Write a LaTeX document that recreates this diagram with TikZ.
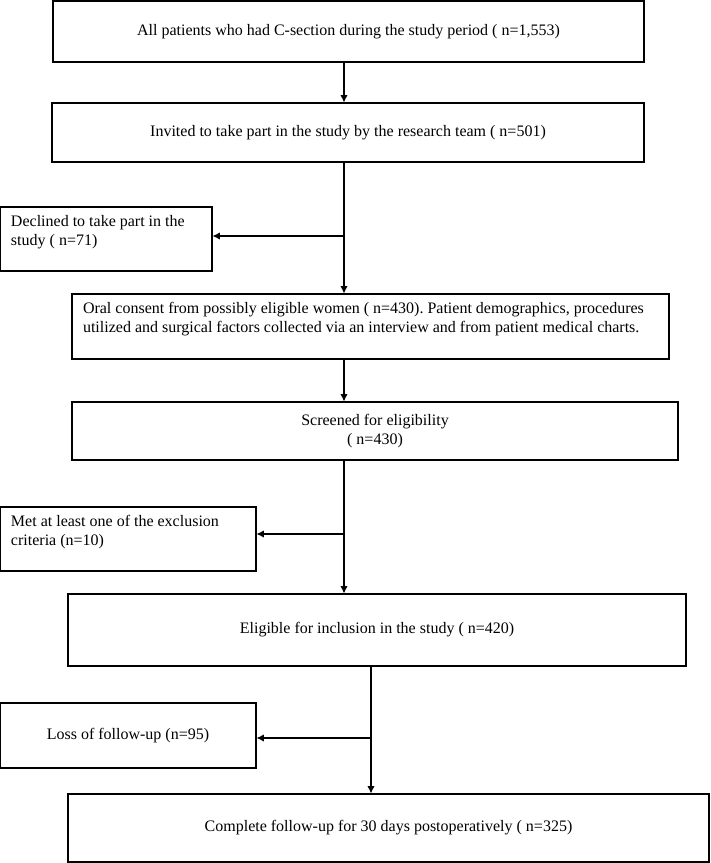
\documentclass[tikz,border=0pt]{standalone}
\usepackage{fontspec}
\setmainfont{Liberation Serif}
\usetikzlibrary{arrows.meta}

\begin{document}
\begin{tikzpicture}[x=0.75pt, y=-0.75pt,
    box/.style={rectangle, draw, line width=0.8pt, inner sep=0pt, font=\fontsize{12}{14.25}\selectfont\frenchspacing},
    sidebox/.style={box, align=flush left, inner xsep=8.25pt, text height=14.75pt},
    arr/.style={line width=0.8pt, -{Latex[length=5.5pt, width=5.5pt]}}]

    \useasboundingbox (0,0) rectangle (710,863);

    % All patients
    \node[box, minimum width=443.25pt, minimum height=45.75pt] (AP) at (348.5,31.5) {All patients who had C-section during the study period ( n=1,553)};

    % Invited
    \node[box, minimum width=444pt, minimum height=44.25pt] (IN) at (348,132.5) {Invited to take part in the study by the research team ( n=501)};

    % Declined
    \node[sidebox, text width=142.5pt, text depth=33.25pt] (DC) at (106,239) {Declined to take part in the\\study ( n=71)};

    % Oral consent
    \node[sidebox, text width=431.25pt, text depth=34pt] (OC) at (370.5,326.5) {Oral consent from possibly eligible women ( n=430). Patient demographics, procedures\\utilized and surgical factors collected via an interview and from patient medical charts.};

    % Screened
    \node[box, align=flush center, minimum width=454.5pt, minimum height=43.5pt] (SC) at (375,431) {Screened for eligibility\\( n=430)};

    % Excluded
    \node[sidebox, text width=175.5pt, text depth=33.25pt] (EX) at (128,539) {Met at least one of the exclusion\\criteria (n=10)};

    % Eligible
    \node[box, minimum width=463.5pt, minimum height=54pt] (EL) at (377,630) {Eligible for inclusion in the study ( n=420)};

    % Loss of follow-up
    \node[box, minimum width=192pt, minimum height=48.75pt] (LF) at (128,735.5) {Loss of follow-up (n=95)};

    % Complete follow-up
    \node[box, minimum width=480.75pt, minimum height=51pt] (CF) at (388.5,828) {Complete follow-up for 30 days postoperatively ( n=325)};

    % Main line, upper part
    \coordinate (S1) at (344,0);
    \draw[arr] (AP.south -| S1) -- (IN.north -| S1);
    \draw[arr] (IN.south -| S1) -- (OC.north -| S1);
    \coordinate (B1) at (344,236);
    \draw[arr] (B1) -- (B1 -| DC.east);
    \draw[arr] (OC.south -| S1) -- (SC.north -| S1);
    \draw[arr] (SC.south -| S1) -- (EL.north -| S1);
    \coordinate (B2) at (344,534);
    \draw[arr] (B2) -- (B2 -| EX.east);

    % Main line, lower part
    \coordinate (S2) at (371,0);
    \draw[arr] (EL.south -| S2) -- (CF.north -| S2);
    \coordinate (B3) at (371,738);
    \draw[arr] (B3) -- (B3 -| LF.east);
\end{tikzpicture}
\end{document}
